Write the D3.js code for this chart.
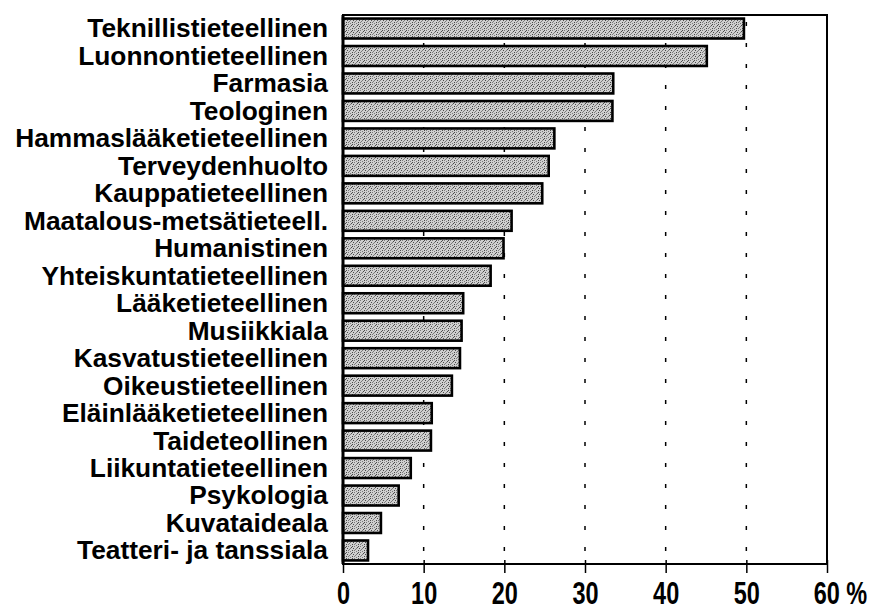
<!DOCTYPE html>
<head>
    <meta charset="utf-8">
    <script src="https://d3js.org/d3.v7.min.js"></script>
    <style>
        body { margin: 0; background: #fff; }
        .cat { font-family: "Liberation Sans", Arial, sans-serif; font-weight: bold; font-size: 26.3px; }
    </style>
</head>
<body>
<script>
    ////////////// Data //////////////
    const categories = [
        "Teknillistieteellinen", "Luonnontieteellinen", "Farmasia", "Teologinen",
        "Hammaslääketieteellinen", "Terveydenhuolto", "Kauppatieteellinen",
        "Maatalous-metsätieteell.", "Humanistinen", "Yhteiskuntatieteellinen",
        "Lääketieteellinen", "Musiikkiala", "Kasvatustieteellinen", "Oikeustieteellinen",
        "Eläinlääketieteellinen", "Taideteollinen", "Liikuntatieteellinen",
        "Psykologia", "Kuvataideala", "Teatteri- ja tanssiala"
    ]
    const values = [49.7, 45.1, 33.5, 33.4, 26.2, 25.5, 24.7, 20.9, 19.9, 18.3,
                    14.9, 14.7, 14.5, 13.5, 11.0, 10.9, 8.4, 6.9, 4.7, 3.1]
    const xTicks = [0, 10, 20, 30, 40, 50, 60]

    ////////////// Create the SVG //////////////
    let width = 872,
        height = 608
    const margin = {left: 343, right: 45, top: 15, bottom: 44}

    let svg = d3.select("body")
        .append("svg")
        .attr("width", width)
        .attr("height", height)

    //stipple pattern for the bars (halftone look)
    const defs = svg.append("defs")
    const pat = defs.append("pattern")
        .attr("id", "stipple")
        .attr("patternUnits", "userSpaceOnUse")
        .attr("width", 6).attr("height", 6)
    pat.append("rect").attr("width", 6).attr("height", 6).attr("fill", "#cfcfcf")
    const dots = [[0,0],[3,1],[1,3],[4,4],[2,5],[5,2],[0,4],[4,0],[2,2]]
    pat.selectAll(".d").data(dots).enter().append("rect")
        .attr("x", d => d[0]).attr("y", d => d[1])
        .attr("width", 1).attr("height", 1)
        .attr("fill", (d, i) => i % 2 ? "#4a4a4a" : "#7a7a7a")

    ////////////// Scales //////////////
    const x_scale = d3.scaleLinear()
        .domain([0, 60])
        .range([margin.left, width - margin.right])

    const y_scale = d3.scaleBand()
        .domain(categories)
        .range([margin.top, height - margin.bottom])
        .paddingInner(0.275)
        .paddingOuter(0.13)

    ////////////// Gridlines //////////////
    svg.append("g").selectAll("line")
        .data(xTicks.filter(t => t > 0 && t < 60))
        .enter().append("line")
        .attr("x1", d => x_scale(d)).attr("x2", d => x_scale(d))
        .attr("y1", margin.top).attr("y2", height - margin.bottom)
        .attr("stroke", "#000")
        .attr("stroke-width", 1.5)
        .attr("stroke-dasharray", "4 17")
        .attr("stroke-dashoffset", -7)

    ////////////// Bars //////////////
    svg.append("g").selectAll("rect")
        .data(values)
        .enter().append("rect")
        .attr("x", x_scale(0))
        .attr("y", (d, i) => y_scale(categories[i]))
        .attr("width", d => x_scale(d) - x_scale(0))
        .attr("height", y_scale.bandwidth())
        .attr("fill", "url(#stipple)")
        .attr("stroke", "#000")
        .attr("stroke-width", 2.6)

    ////////////// Frame //////////////
    const x0 = x_scale(0), x1 = x_scale(60)
    const y0 = margin.top, y1 = height - margin.bottom
    svg.append("rect")
        .attr("x", x0).attr("y", y0)
        .attr("width", x1 - x0).attr("height", y1 - y0)
        .attr("fill", "none").attr("stroke", "#000").attr("stroke-width", 2)
    svg.append("line")
        .attr("x1", x0).attr("x2", x0).attr("y1", y0).attr("y2", y1)
        .attr("stroke", "#000").attr("stroke-width", 3)

    ////////////// X axis //////////////
    const xAxis = svg.append("g")
        .attr("transform", `translate(0,${y1})`)
        .call(d3.axisBottom(x_scale).tickValues(xTicks).tickSize(9).tickSizeOuter(0)
            .tickFormat(d => d === 60 ? "60 %" : d))
    xAxis.select(".domain").remove()
    xAxis.selectAll("line").attr("stroke-width", 1.5).attr("y1", -4)
    xAxis.selectAll("text")
        .attr("fill", "#000")
        .style("font-family", "'Liberation Sans', Arial, sans-serif")
        .style("font-weight", "bold")
        .style("font-size", "30.5px")
        .attr("y", 40)
        .attr("dy", 0)
        .attr("text-anchor", d => d === 60 ? "start" : "middle")
        .attr("x", d => d === 60 ? -18 : 0)
        .attr("transform", "scale(0.77,1)")

    ////////////// Category labels //////////////
    svg.append("g").selectAll("text")
        .data(categories)
        .enter().append("text")
        .attr("class", "cat")
        .attr("x", 328)
        .attr("y", d => y_scale(d) + y_scale.bandwidth() / 2)
        .attr("dy", "0.34em")
        .attr("text-anchor", "end")
        .text(d => d)
</script>
</body>
